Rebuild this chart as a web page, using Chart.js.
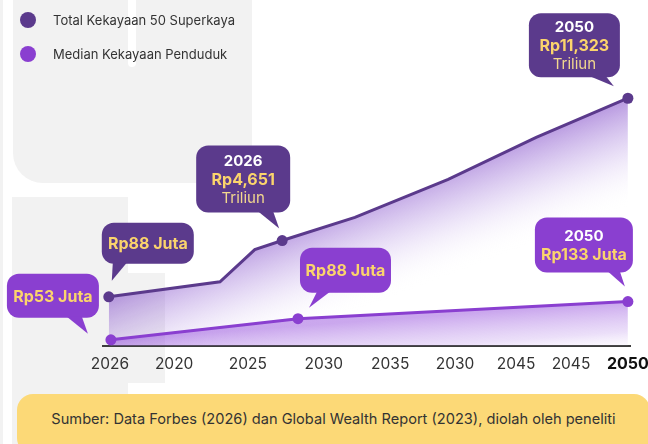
<!DOCTYPE html>
<html lang="id">
<head>
<meta charset="utf-8">
<title>Total Kekayaan 50 Superkaya vs Median Kekayaan Penduduk</title>
<script src="https://cdn.jsdelivr.net/npm/chart.js@4.4.1/dist/chart.umd.min.js"></script>
<style>
  html, body { margin: 0; padding: 0; background: #fff; }
  body {
    width: 648px; height: 444px; position: relative; overflow: hidden;
    font-family: Inter, 'Noto Sans', sans-serif; color: #333;
  }
  /* dekorasi latar abu-abu */
  .latar { position: absolute; background: #f2f2f2; }
  .celah { position: absolute; background: #fff; }
  #wadahChart { position: absolute; left: 0; top: 0; width: 648px; height: 444px; }
  .legenda { position: absolute; left: 20px; top: 10px; font-size: 13px; color: #333; }
  .legenda .item { display: flex; align-items: center; height: 20px; margin-bottom: 14px; }
  .legenda .bulat { width: 16px; height: 16px; border-radius: 50%; margin-right: 17px; }
  .sumber {
    position: absolute; left: 17px; top: 394px; width: 633px; height: 60px;
    border-radius: 16px; background: #fcd977; text-align: center;
    line-height: 50px; font-size: 14.6px; color: #333;
  }
</style>
</head>
<body>
<div class="latar" style="left:0;top:0;width:3px;height:444px"></div>
<div class="latar" style="left:13px;top:0;width:239px;height:183px;border-bottom-left-radius:30px"></div>
<div class="celah" style="left:128px;top:0;width:8px;height:67px;border-radius:0 0 4px 4px"></div>
<div class="latar" style="left:12px;top:197px;width:116px;height:247px"></div>
<div class="latar" style="left:128px;top:273px;width:37px;height:110px"></div>

<div id="wadahChart"><canvas id="grafik" width="648" height="444"></canvas></div>
<div class="legenda" id="legenda"></div>
<div class="sumber">Sumber: Data Forbes (2026) dan Global Wealth Report (2023), diolah oleh peneliti</div>

<script>
// --- Data (posisi X pada skala 0–100, karena label sumbu tidak berurutan) ---
const namaSeri = ['Total Kekayaan 50 Superkaya', 'Median Kekayaan Penduduk'];

const posisiSuperkaya = [1.1, 22.2, 28.8, 34.0, 47.8, 65.5, 82.2, 99.6];
const nilaiSuperkaya  = [16.3, 21.3, 32.0, 35.0, 42.7, 55.3, 69.3, 82.3];

const posisiMedian = [1.5, 37.0, 99.6];
const nilaiMedian  = [2.0, 9.0, 14.7];

const posisiTick = [1.3, 13.5, 27.5, 41.9, 54.5, 66.8, 78.4, 88.8, 99.6];
const labelTick  = ['2026', '2020', '2025', '2030', '2035', '2030', '2045', '2045', '2050'];

// Titik yang diberi penanda pada garis superkaya
const titikSuperkaya = [0, 3, 7];

// Teks gelembung keterangan
const bubbleTahun  = ['', '', '2026', '2050', '', '2050'];
const bubbleNilai  = ['Rp88 Juta', 'Rp53 Juta', 'Rp4,651', 'Rp11,323', 'Rp88 Juta', 'Rp133 Juta'];
const bubbleSatuan = ['', '', 'Triliun', 'Triliun', '', ''];

// --- Warna ---
const UNGU_TUA = '#5b3a8c';
const UNGU = '#8a3fd0';
const KUNING = '#fbd46c';
const KUNING_MUDA = '#f3d88e';

// Letak gelembung relatif ke titik acuan: kotak [dx, dy, lebar, tinggi], ekor [x1, x2, ujungX, ujungY]
const LETAK_BUBBLE = [
  { seri: 0, idx: 0, warna: UNGU_TUA, kotak: [-7, -74, 92, 41],   ekor: [4, 18, 3, -16] },
  { seri: 1, idx: 0, warna: UNGU,     kotak: [-104, -66, 92, 44], ekor: [-44, -29, -23, -6] },
  { seri: 0, idx: 3, warna: UNGU_TUA, kotak: [-86, -95, 94, 67],  ekor: [-24, -9, -3, -12] },
  { seri: 0, idx: 7, warna: UNGU_TUA, kotak: [-99, -85, 91, 64],  ekor: [-38, -22, -14, -12] },
  { seri: 1, idx: 1, warna: UNGU,     kotak: [2, -71, 91, 45],    ekor: [19, 32, 11, -11] },
  { seri: 1, idx: 2, warna: UNGU,     kotak: [-93, -84, 98, 55],  ekor: [-20, -8, -3, -15] },
];

const semuaPosisi = [posisiSuperkaya, posisiMedian];
const semuaNilai = [nilaiSuperkaya, nilaiMedian];

// Gradien tegak lurus terhadap arah garis: pekat di dekat garis, memudar menjauh
function gradienGaris(chart, xs, ys, stops, panjang) {
  const { scales, ctx, chartArea } = chart;
  if (!chartArea) return stops[0][1];
  const n = xs.length - 1;
  const x1 = scales.x.getPixelForValue(xs[0]), y1 = scales.y.getPixelForValue(ys[0]);
  const x2 = scales.x.getPixelForValue(xs[n]), y2 = scales.y.getPixelForValue(ys[n]);
  const len = Math.hypot(x2 - x1, y2 - y1);
  const px = -(y2 - y1) / len, py = (x2 - x1) / len;
  const g = ctx.createLinearGradient(x2, y2, x2 + px * panjang, y2 + py * panjang);
  stops.forEach(([t, c]) => g.addColorStop(t, c));
  return g;
}

// --- Plugin gelembung keterangan ---
const pluginBubble = {
  id: 'bubble',
  afterDatasetsDraw(chart) {
    const { ctx, scales } = chart;
    ctx.save();
    LETAK_BUBBLE.forEach((b, i) => {
      const ax = scales.x.getPixelForValue(semuaPosisi[b.seri][b.idx]);
      const ay = scales.y.getPixelForValue(semuaNilai[b.seri][b.idx]);
      const [dx, dy, w, h] = b.kotak;
      const bx = ax + dx, by = ay + dy;

      ctx.fillStyle = b.warna;
      ctx.beginPath();
      ctx.roundRect(bx, by, w, h, 12);
      ctx.fill();

      const [e1, e2, ux, uy] = b.ekor;
      ctx.beginPath();
      ctx.moveTo(ax + e1, by + h - 1);
      ctx.lineTo(ax + e2, by + h - 1);
      ctx.lineTo(ax + ux, ay + uy);
      ctx.closePath();
      ctx.fill();

      const baris = [];
      if (bubbleTahun[i]) baris.push({ teks: bubbleTahun[i], font: 'bold 15px Inter', warna: '#ffffff' });
      baris.push({ teks: bubbleNilai[i], font: 'bold 16px Inter', warna: KUNING });
      if (bubbleSatuan[i]) baris.push({ teks: bubbleSatuan[i], font: '15px Inter', warna: KUNING_MUDA });

      const tinggiBaris = 18.5;
      const cx = bx + w / 2;
      const cy = by + h / 2 - (baris.length - 1) * tinggiBaris / 2;
      ctx.textAlign = 'center';
      ctx.textBaseline = 'middle';
      baris.forEach((r, k) => {
        ctx.font = r.font;
        ctx.fillStyle = r.warna;
        ctx.fillText(r.teks, cx, cy + k * tinggiBaris + 1);
      });
    });
    ctx.restore();
  }
};

const grafik = new Chart(document.getElementById('grafik'), {
  type: 'line',
  data: {
    datasets: [
      {
        label: namaSeri[0],
        data: posisiSuperkaya.map((x, i) => ({ x, y: nilaiSuperkaya[i] })),
        borderColor: UNGU_TUA,
        borderWidth: 3,
        tension: 0,
        fill: 'origin',
        backgroundColor: (c) => gradienGaris(c.chart, posisiSuperkaya, nilaiSuperkaya, [
          [0, 'rgba(140, 90, 205, 0.62)'],
          [0.4, 'rgba(175, 140, 225, 0.22)'],
          [0.75, 'rgba(255, 255, 255, 0)'],
          [1, 'rgba(255, 255, 255, 0)'],
        ], 135),
        pointRadius: (c) => titikSuperkaya.includes(c.dataIndex) ? 5.5 : 0,
        pointBackgroundColor: UNGU_TUA,
        pointBorderWidth: 0,
        clip: false,
        order: 2,
      },
      {
        label: namaSeri[1],
        data: posisiMedian.map((x, i) => ({ x, y: nilaiMedian[i] })),
        borderColor: UNGU,
        borderWidth: 3,
        tension: 0,
        fill: 'origin',
        backgroundColor: (c) => gradienGaris(c.chart, posisiMedian, nilaiMedian, [
          [0, 'rgba(150, 80, 220, 0.5)'],
          [0.6, 'rgba(190, 150, 235, 0.3)'],
          [1, 'rgba(255, 255, 255, 0.1)'],
        ], 50),
        pointRadius: 5.5,
        pointBackgroundColor: UNGU,
        pointBorderWidth: 0,
        clip: false,
        order: 1,
      },
    ],
  },
  options: {
    responsive: false,
    animation: false,
    layout: { padding: { left: 103, right: 18, top: 45, bottom: 61 } },
    plugins: {
      legend: { display: false },
      tooltip: { enabled: false },
    },
    scales: {
      x: {
        type: 'linear',
        min: 0,
        max: 100,
        grid: { display: false, drawTicks: false },
        border: { display: true, color: '#3d3d3d', width: 2 },
        afterBuildTicks: (scale) => { scale.ticks = posisiTick.map(v => ({ value: v })); },
        afterFit: (scale) => { scale.paddingLeft = 0; scale.paddingRight = 0; },
        ticks: {
          autoSkip: false,
          maxRotation: 0,
          padding: 9,
          color: (c) => c.index === labelTick.length - 1 ? '#111' : '#333',
          font: (c) => c.index === labelTick.length - 1
            ? { family: 'Inter', size: 16, weight: 'bold' }
            : { family: 'Inter', size: 15.5 },
          callback: (val, i) => labelTick[i],
        },
      },
      y: {
        display: false,
        min: 0,
        max: 100,
      },
    },
  },
  plugins: [pluginBubble],
});

// --- Legenda HTML dari dataset ---
const legendaEl = document.getElementById('legenda');
grafik.data.datasets.forEach(ds => {
  const item = document.createElement('div');
  item.className = 'item';
  const bulat = document.createElement('span');
  bulat.className = 'bulat';
  bulat.style.background = ds.borderColor;
  item.appendChild(bulat);
  item.appendChild(document.createTextNode(ds.label));
  legendaEl.appendChild(item);
});
</script>
</body>
</html>
